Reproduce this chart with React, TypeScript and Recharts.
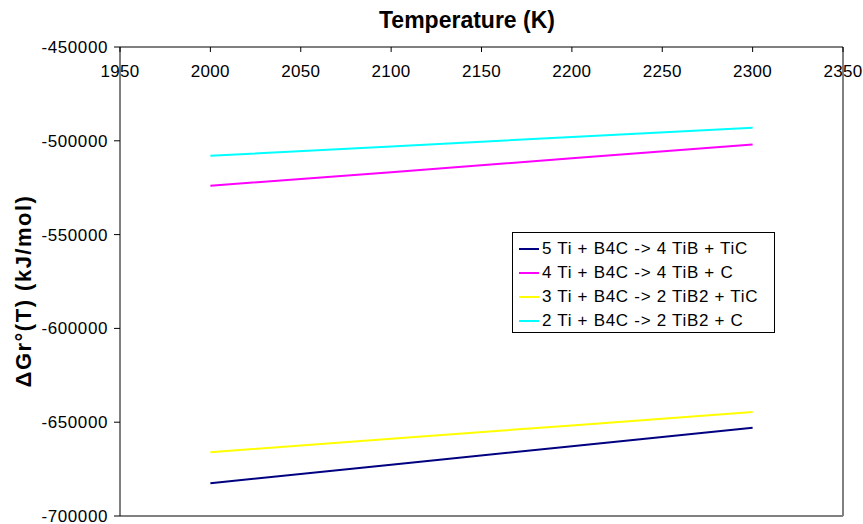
import React from 'react';
import { LineChart, Line, XAxis, YAxis, ReferenceLine } from 'recharts';

const temperatures = [2000, 2100, 2200, 2300];
const ti5Values = [-682500, -672700, -662800, -653000];
const ti4Values = [-524000, -516700, -509300, -502000];
const ti3Values = [-666000, -658800, -651700, -644500];
const ti2Values = [-508000, -503000, -498000, -493000];

const xTicks = [1950, 2000, 2050, 2100, 2150, 2200, 2250, 2300, 2350];
const yTicks = [-450000, -500000, -550000, -600000, -650000, -700000];

const seriesInfo = [
  { key: 'ti5', name: '5 Ti + B4C -> 4 TiB + TiC', color: '#000080' },
  { key: 'ti4', name: '4 Ti + B4C -> 4 TiB + C', color: '#FF00FF' },
  { key: 'ti3', name: '3 Ti + B4C -> 2 TiB2 + TiC', color: '#FFFF00' },
  { key: 'ti2', name: '2 Ti + B4C -> 2 TiB2 + C', color: '#00FFFF' },
];

const data = temperatures.map((t, i) => ({
  t,
  ti5: ti5Values[i],
  ti4: ti4Values[i],
  ti3: ti3Values[i],
  ti2: ti2Values[i],
}));

const FONT = '"Liberation Sans", Arial, sans-serif';

// x labels sit under the top axis line, like the Excel original
const TopTick = ({ x, y, payload }: any) => (
  <g>
    <line x1={x} y1={y} x2={x} y2={y + 5} stroke="#000" />
    <text
      x={x}
      y={y + 30}
      textAnchor="middle"
      fontSize={17}
      fill="#000"
      fontFamily={FONT}
      style={{ letterSpacing: 0.3 }}
    >
      {payload.value}
    </text>
  </g>
);

const LegendBox = () => (
  <div
    style={{
      position: 'absolute',
      left: 512,
      top: 232,
      border: '1px solid #000',
      background: '#fff',
      width: 263,
      height: 101,
      boxSizing: 'border-box',
      padding: '4px 0 0 6px',
      fontFamily: FONT,
      fontSize: 17,
      letterSpacing: 0.7,
      color: '#000',
    }}
  >
    {seriesInfo.map((s) => (
      <div key={s.key} style={{ display: 'flex', alignItems: 'center', height: 24, whiteSpace: 'nowrap' }}>
        <span style={{ display: 'inline-block', width: 20, height: 2, background: s.color, marginRight: 3 }} />
        <span>{s.name}</span>
      </div>
    ))}
  </div>
);

export default function App() {
  return (
    <div style={{ position: 'absolute', left: 0, top: 0, width: 863, height: 524, background: '#fff' }}>
      <LineChart width={863} height={524} data={data} margin={{ top: 46, right: 20, bottom: 8, left: 0 }}>
        <XAxis
          dataKey="t"
          type="number"
          orientation="top"
          domain={[1950, 2350]}
          ticks={xTicks}
          height={1}
          tickSize={0}
          tickMargin={0}
          tickLine={false}
          tick={<TopTick />}
          stroke="#000"
          interval={0}
        />
        <YAxis
          type="number"
          domain={[-700000, -450000]}
          ticks={yTicks}
          width={120}
          tickSize={6}
          tickMargin={6}
          stroke="#000"
          tick={{ fontSize: 17, fill: '#000', fontFamily: FONT, style: { letterSpacing: 0.6 } }}
          interval={0}
        />
        <ReferenceLine x={2350} stroke="#808080" strokeWidth={2} />
        <ReferenceLine y={-700000} stroke="#808080" strokeWidth={2} />
        {seriesInfo.map((s) => (
          <Line
            key={s.key}
            dataKey={s.key}
            name={s.name}
            stroke={s.color}
            strokeWidth={2}
            dot={false}
            isAnimationActive={false}
          />
        ))}
      </LineChart>
      <LegendBox />
      <div
        style={{
          position: 'absolute',
          left: 467,
          top: 7,
          transform: 'translateX(-50%)',
          whiteSpace: 'nowrap',
          fontFamily: FONT,
          fontWeight: 'bold',
          fontSize: 23,
        }}
      >
        Temperature (K)
      </div>
      <div
        style={{
          position: 'absolute',
          left: 24,
          top: 291,
          transform: 'translate(-50%, -50%) rotate(-90deg)',
          whiteSpace: 'nowrap',
          fontFamily: FONT,
          fontWeight: 'bold',
          fontSize: 22,
          letterSpacing: 1.5,
        }}
      >
        ΔGr°(T) (kJ/mol)
      </div>
    </div>
  );
}
